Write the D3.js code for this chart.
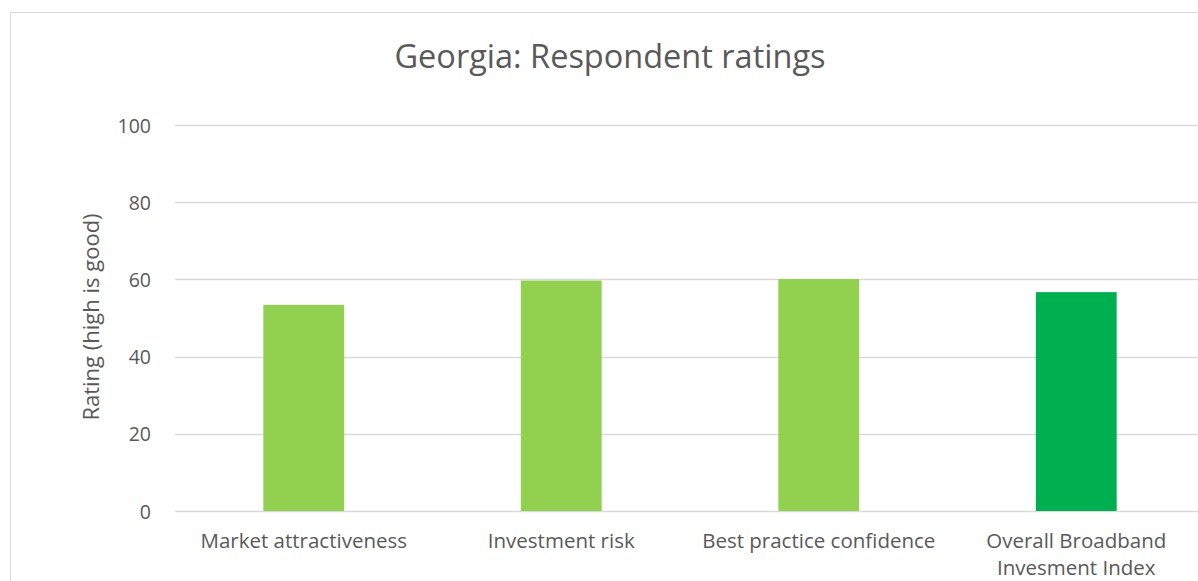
<!DOCTYPE html>
<html>
<head>
<meta charset="utf-8">
<script src="https://cdn.jsdelivr.net/npm/d3@7"></script>
<style>
  html, body { margin: 0; padding: 0; background: #fff; overflow: hidden; }
  svg { display: block; }
  text { font-family: "Open Sans", sans-serif; fill: #595959; }
</style>
</head>
<body>
<svg id="chart" width="1198" height="581"></svg>
<script>
const categories = ["Market attractiveness", "Investment risk", "Best practice confidence", "Overall Broadband Invesment Index"];
const values = [53.4, 59.7, 60.1, 56.7];
const barColors = ["#92D050", "#92D050", "#92D050", "#00B050"];
const yTicks = [0, 20, 40, 60, 80, 100];
const title = "Georgia: Respondent ratings";
const yTitle = "Rating (high is good)";

const FONT = "'Open Sans', sans-serif";
const svg = d3.select("#chart");

// chart area border
svg.append("rect")
  .attr("x", 10.5).attr("y", 12.5)
  .attr("width", 1200).attr("height", 620)
  .attr("fill", "none").attr("stroke", "#d9d9d9").attr("stroke-width", 1);

const x = d3.scaleBand().domain(categories).range([175, 1205]).paddingInner(0.686).paddingOuter(0.343);
const y = d3.scaleLinear().domain([0, 100]).range([511, 125]);

// gridlines
svg.append("g").selectAll("line").data(yTicks).join("line")
  .attr("x1", 175).attr("x2", 1205)
  .attr("y1", d => Math.round(y(d)) + 0.5).attr("y2", d => Math.round(y(d)) + 0.5)
  .attr("stroke", "#d9d9d9").attr("stroke-width", 1.3);

// y axis labels
const yAxis = d3.axisLeft(y).tickValues(yTicks).tickSize(0).tickPadding(0);
const gy = svg.append("g").attr("transform", "translate(151,0)").call(yAxis);
gy.select(".domain").remove();
gy.selectAll("text").attr("font-size", "19.5px").attr("fill", "#595959")
  .style("font-family", FONT).attr("dy", "0.36em");

// bars
svg.append("g").selectAll("rect").data(values).join("rect")
  .attr("x", (d, i) => x(categories[i]))
  .attr("width", x.bandwidth())
  .attr("y", d => y(d))
  .attr("height", d => y(0) - y(d))
  .attr("fill", (d, i) => barColors[i]);

// x axis labels
const xAxis = d3.axisBottom(x).tickSize(0).tickPadding(0);
const gx = svg.append("g").attr("transform", "translate(0,511)").call(xAxis);
gx.select(".domain").remove();
gx.selectAll("text").attr("font-size", "20.5px").attr("fill", "#595959")
  .style("font-family", FONT)
  .attr("dy", null).attr("y", 36.5)
  .each(function(d) {
    const t = d3.select(this);
    const words = d.split(" ");
    const maxW = 250;
    t.text(null);
    let line = [];
    let lineNo = 0;
    let tspan = t.append("tspan").attr("x", 0).attr("y", 36.5);
    for (const w of words) {
      line.push(w);
      tspan.text(line.join(" "));
      if (tspan.node().getComputedTextLength() > maxW && line.length > 1) {
        line.pop();
        tspan.text(line.join(" "));
        line = [w];
        lineNo++;
        tspan = t.append("tspan").attr("x", 0).attr("y", 36.5 + lineNo * 27.5).text(w);
      }
    }
  });

// title
svg.append("text").attr("x", 610).attr("y", 68)
  .attr("text-anchor", "middle").attr("font-size", "32.5px").attr("fill", "#595959")
  .style("font-family", FONT)
  .text(title);

// y title
svg.append("text")
  .attr("transform", "translate(99,317) rotate(-90)")
  .attr("text-anchor", "middle").attr("font-size", "22px").attr("fill", "#595959")
  .style("font-family", FONT)
  .text(yTitle);
</script>
</body>
</html>
